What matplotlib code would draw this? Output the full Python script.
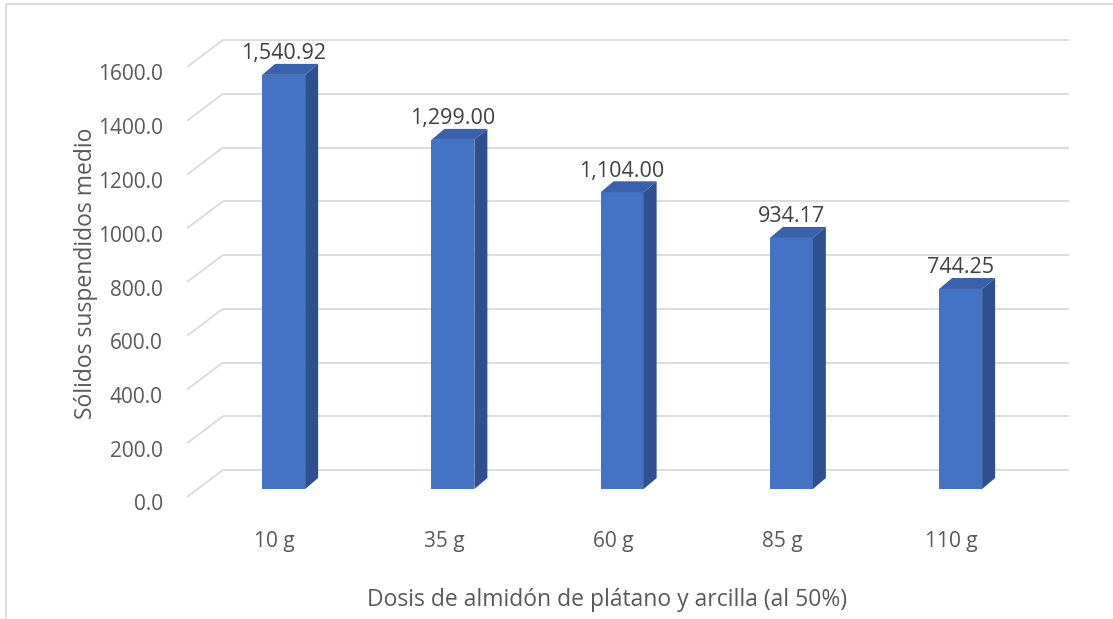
import matplotlib
matplotlib.use("Agg")
import matplotlib.pyplot as plt
from matplotlib.patches import Polygon
from matplotlib.lines import Line2D
from matplotlib.transforms import ScaledTranslation, blended_transform_factory

# ---- data ----
categories = ["10 g", "35 g", "60 g", "85 g", "110 g"]
values = [1540.92, 1299.00, 1104.00, 934.17, 744.25]
y_ticks = [0, 200, 400, 600, 800, 1000, 1200, 1400, 1600]
x_title = "Dosis de almidón de plátano y arcilla (al 50%)"
y_title = "Sólidos suspendidos medio"

W, H, DPI = 1113, 619, 100
plt.rcParams['font.family'] = ['Open Sans', 'DejaVu Sans']
fig = plt.figure(figsize=(W / DPI, H / DPI), dpi=DPI)

# axes = front plane of the bars (pixel geometry of the plot area)
left_px, right_px = 199, 199 + 5 * 169.25
bottom_px, top_px = 489, 59
ax = fig.add_axes([left_px / W, (H - bottom_px) / H,
                   (right_px - left_px) / W, (bottom_px - top_px) / H])
ax.set_xlim(-0.5, len(categories) - 0.5)
ax.set_ylim(0, 1600)
ax.axis('off')

# pixel -> data unit conversion for the pseudo-3D depth offsets
sx = (len(categories)) / (right_px - left_px)
sy = 1600 / (bottom_px - top_px)

grid_col = '#D9D9D9'
wall_dx, wall_dy = 24, 19     # back wall offset (right, up)
front_dx, front_dy = -12, -8  # front edge of the side wall (left, down)
x0, x1 = -0.5, len(categories) - 0.5
for v in y_ticks:
    # back wall horizontal line
    ax.plot([x0 + wall_dx * sx, x1 + wall_dx * sx],
            [v + wall_dy * sy, v + wall_dy * sy],
            color=grid_col, lw=1.3, zorder=1, clip_on=False, solid_capstyle='butt')
    # side wall diagonal
    ax.plot([x0 + front_dx * sx, x0 + wall_dx * sx],
            [v + front_dy * sy, v + wall_dy * sy],
            color=grid_col, lw=1.3, zorder=1, clip_on=False, solid_capstyle='butt')

# bars
xs = list(range(len(categories)))
bw = 43 * sx
ddx, ddy = 13 * sx, 11 * sy
front_col, side_col, top_col = '#4472C4', '#2E5090', '#3A62AC'
ax.bar(xs, values, width=bw, color=front_col, zorder=3, clip_on=False)
for x, v in zip(xs, values):
    r = x + bw / 2
    l = x - bw / 2
    ax.add_patch(Polygon([(r, 0), (r, v), (r + ddx, v + ddy), (r + ddx, ddy)],
                         closed=True, facecolor=side_col, edgecolor='none',
                         zorder=3, clip_on=False))
    ax.add_patch(Polygon([(l, v), (r, v), (r + ddx, v + ddy), (l + ddx, v + ddy)],
                         closed=True, facecolor=top_col, edgecolor='none',
                         zorder=3, clip_on=False))
    ax.annotate(f"{v:,.2f}", (x, v), xytext=(0, 21), textcoords='offset pixels',
                ha='center', va='center', fontsize=15.5, color='#404040', zorder=4)

# value axis labels
tick_tr = blended_transform_factory(ax.transAxes, ax.transData) + \
    ScaledTranslation(0, -16 / DPI, fig.dpi_scale_trans)
for v in y_ticks:
    ax.text((163 - left_px) / (right_px - left_px), v, f"{v:.1f}",
            transform=tick_tr, ha='right', va='center', fontsize=15, color='#595959')

# category labels
cat_tr = blended_transform_factory(ax.transData, ax.transAxes) + \
    ScaledTranslation(-9 / DPI, -(542 - bottom_px) / DPI, fig.dpi_scale_trans)
for x, c in zip(xs, categories):
    ax.text(x, 0, c, transform=cat_tr, ha='center', va='center',
            fontsize=15, color='#595959')

# axis titles
fig.text(607 / W, 1 - 600 / H, x_title, ha='center', va='center',
         fontsize=16.5, color='#595959')
fig.text(86 / W, 1 - 273 / H, y_title, ha='center', va='center', rotation=90,
         fontsize=16.5, color='#595959')

# chart area border
fig.add_artist(Line2D([6 / W, 6 / W, 1.0], [0.0, 1 - 4 / H, 1 - 4 / H],
                      transform=fig.transFigure, color='#D9D9D9', lw=1.3))

fig.savefig("out.png", dpi=DPI)
